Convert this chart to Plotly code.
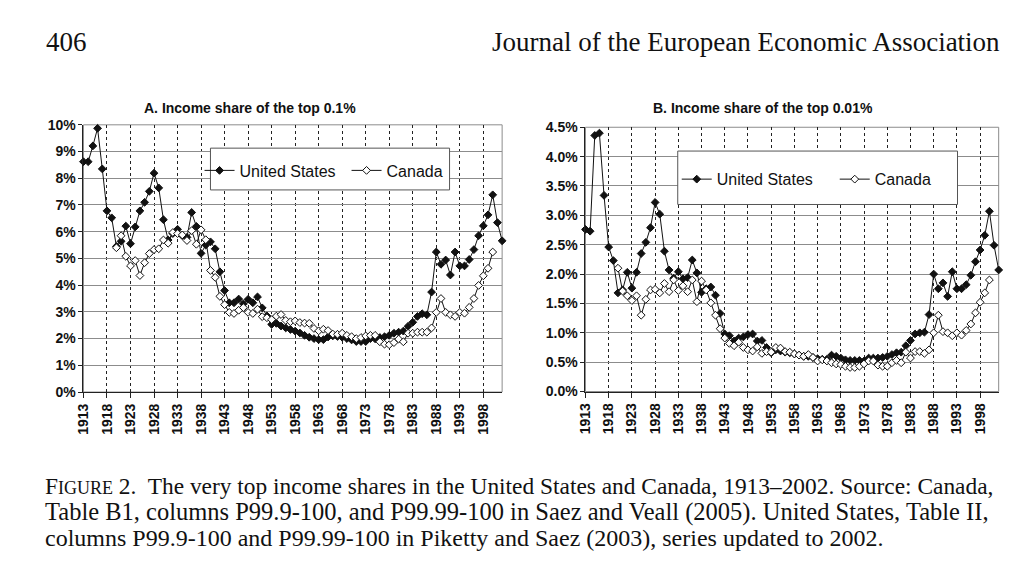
import plotly.graph_objects as go

# ---------------- data ----------------
years_us = list(range(1913, 2003))
years_ca = list(range(1920, 2001))

us_top01 = [8.62, 8.62, 9.21, 9.87, 8.35, 6.78, 6.52, 5.45, 5.64, 6.21,
            5.55, 6.18, 6.78, 7.10, 7.51, 8.19, 7.64, 6.45, 5.69, 5.93,
            6.09, 5.85, 5.79, 6.72, 6.20, 5.19, 5.50, 5.62, 5.36, 4.50,
            3.80, 3.34, 3.34, 3.48, 3.30, 3.47, 3.34, 3.56, 3.15, 2.85,
            2.53, 2.57, 2.47, 2.40, 2.34, 2.28, 2.21, 2.12, 2.05, 2.00,
            1.96, 1.96, 2.06, 2.10, 2.08, 2.05, 2.00, 1.95, 1.89, 1.89,
            1.89, 2.00, 1.99, 2.04, 2.07, 2.12, 2.20, 2.24, 2.28, 2.46,
            2.61, 2.83, 2.93, 2.89, 3.74, 5.24, 4.78, 4.94, 4.38, 5.24,
            4.72, 4.72, 4.96, 5.33, 5.85, 6.22, 6.63, 7.38, 6.34, 5.66]

ca_top01 = [5.40, 5.85, 5.08, 4.72, 4.92, 4.36, 4.84, 5.18, 5.33, 5.36,
            5.69, 5.57, 5.97, 5.93, 5.88, 5.67, 6.04, 5.53, 6.07, 5.70,
            4.55, 4.29, 3.58, 3.27, 2.98, 2.94, 3.06, 3.16, 2.98, 2.94,
            3.10, 2.82, 2.78, 2.71, 2.84, 2.90, 2.68, 2.63, 2.66, 2.60,
            2.58, 2.57, 2.38, 2.29, 2.35, 2.30, 2.17, 2.16, 2.20, 2.12,
            2.07, 2.00, 2.04, 2.10, 2.12, 2.12, 1.88, 1.79, 1.77, 1.85,
            1.98, 1.88, 2.20, 2.20, 2.24, 2.24, 2.24, 2.40, 2.98, 3.50,
            2.98, 2.89, 2.83, 2.98, 2.95, 3.17, 3.50, 3.99, 4.35, 4.63,
            5.24]

us_top001 = [2.76, 2.73, 4.36, 4.40, 3.34, 2.46, 2.23, 1.68, 1.73, 2.03,
             1.76, 2.03, 2.35, 2.54, 2.79, 3.22, 3.02, 2.39, 2.07, 1.93,
             2.04, 1.92, 1.94, 2.24, 2.02, 1.69, 1.75, 1.78, 1.64, 1.33,
             0.98, 0.95, 0.86, 0.91, 0.93, 0.97, 0.98, 0.86, 0.87, 0.75,
             0.66, 0.71, 0.69, 0.67, 0.66, 0.64, 0.62, 0.60, 0.60, 0.58,
             0.56, 0.55, 0.55, 0.62, 0.60, 0.57, 0.54, 0.53, 0.53, 0.53,
             0.52, 0.57, 0.57, 0.57, 0.58, 0.60, 0.63, 0.66, 0.67, 0.78,
             0.87, 0.98, 1.00, 1.01, 1.31, 2.00, 1.75, 1.85, 1.62, 2.04,
             1.75, 1.75, 1.82, 1.98, 2.21, 2.41, 2.66, 3.07, 2.49, 2.07]

ca_top001 = [2.10, 1.71, 1.63, 1.55, 1.63, 1.30, 1.57, 1.73, 1.74, 1.68,
             1.84, 1.70, 1.90, 1.72, 1.80, 1.70, 1.90, 1.53, 1.88, 1.73,
             1.51, 1.30, 1.07, 0.91, 0.82, 0.78, 0.84, 0.75, 0.71, 0.69,
             0.76, 0.65, 0.68, 0.67, 0.75, 0.74, 0.68, 0.67, 0.64, 0.62,
             0.60, 0.63, 0.58, 0.52, 0.54, 0.52, 0.49, 0.47, 0.46, 0.43,
             0.41, 0.41, 0.43, 0.47, 0.52, 0.52, 0.45, 0.43, 0.43, 0.49,
             0.53, 0.49, 0.67, 0.57, 0.68, 0.68, 0.65, 0.71, 1.00, 1.30,
             1.02, 1.00, 0.95, 1.00, 0.96, 1.04, 1.15, 1.34, 1.52, 1.68,
             1.90]

tick_years = list(range(1913, 2002, 5))
tick_labels = [str(y) for y in tick_years]

panel_titles = ["A. Income share of the top 0.1%", "B. Income share of the top 0.01%"]
series_names = ["United States", "Canada"]

# ---------------- figure ----------------
SANS = "Liberation Sans, Arial, sans-serif"
SERIF = "Liberation Serif, Times New Roman, serif"

# the page body keeps its default 8px margin, so the figure is sized to fit
OFF = 8
W, H = 1030 - 2 * OFF, 580 - 2 * OFF


def px(x):
    return (x - OFF) / W


def py(y):
    return (H - (y - OFF)) / H


fig = go.Figure()


def add_pair(us, ca, xa, ya, legend):
    fig.add_trace(go.Scatter(
        x=years_us, y=us, name=series_names[0], mode="lines+markers",
        line=dict(color="#111111", width=1),
        marker=dict(symbol="diamond", size=6, color="#111111",
                    line=dict(color="#111111", width=1)),
        xaxis=xa, yaxis=ya, legend=legend, cliponaxis=False))
    fig.add_trace(go.Scatter(
        x=years_ca, y=ca, name=series_names[1], mode="lines+markers",
        line=dict(color="#111111", width=1),
        marker=dict(symbol="diamond", size=6, color="white",
                    line=dict(color="#111111", width=1)),
        xaxis=xa, yaxis=ya, legend=legend, cliponaxis=False))


add_pair(us_top01, ca_top01, "x", "y", "legend")
add_pair(us_top001, ca_top001, "x2", "y2", "legend2")

tickfont = dict(family=SANS, size=14, color="#111", weight="bold")

xaxis_common = dict(
    range=[1913, 2002], tickmode="array", tickvals=tick_years, ticktext=tick_labels,
    tickangle=-90, ticks="outside", ticklen=5, tickcolor="#222", tickwidth=1,
    showline=True, linecolor="#222", linewidth=1,
    showgrid=True, gridcolor="#222", gridwidth=1, griddash="dot",
    zeroline=False, tickfont=tickfont, fixedrange=True,
)
yaxis_common = dict(
    ticks="outside", ticklen=4, tickcolor="#222",
    showline=True, linecolor="#222", linewidth=1,
    showgrid=True, gridcolor="#8c8c8c", gridwidth=1,
    zeroline=False, ticksuffix="%", tickfont=tickfont, fixedrange=True,
)

fig.update_layout(
    width=W, height=H,
    margin=dict(l=0, r=0, t=0, b=0),
    paper_bgcolor="white", plot_bgcolor="white",
    showlegend=True,
    xaxis=dict(domain=[px(76), px(498)], anchor="y", **xaxis_common),
    yaxis=dict(domain=[py(395), py(120)], anchor="x", range=[0, 10], dtick=1,
               tickformat="d", **yaxis_common),
    xaxis2=dict(domain=[px(582), px(998.5)], anchor="y2", **xaxis_common),
    yaxis2=dict(domain=[py(394.5), py(122.5)], anchor="x2", range=[0, 4.5], dtick=0.5,
                tickformat=".1f", **yaxis_common),
    legend=dict(orientation="h", x=px(193), y=py(167), xanchor="left", yanchor="middle",
                bgcolor="rgba(0,0,0,0)", borderwidth=0,
                font=dict(family=SANS, size=16, color="#111"),
                entrywidth=102, itemwidth=30),
    legend2=dict(orientation="h", x=px(674), y=py(176), xanchor="left", yanchor="middle",
                 bgcolor="rgba(0,0,0,0)", borderwidth=0,
                 font=dict(family=SANS, size=16, color="#111"),
                 entrywidth=113, itemwidth=30),
)

# plot-area frames (grey top/right border) and legend boxes
for xr, yr in (("x domain", "y domain"), ("x2 domain", "y2 domain")):
    fig.add_shape(type="rect", xref=xr, yref=yr, x0=0, x1=1, y0=0, y1=1,
                  line=dict(color="#8c8c8c", width=1), layer="below")
fig.add_shape(type="rect", xref="paper", yref="paper",
              x0=px(204), x1=px(445), y0=py(187), y1=py(144),
              line=dict(color="#555", width=1), fillcolor="white", layer="above")
fig.add_shape(type="rect", xref="paper", yref="paper",
              x0=px(675), x1=px(957), y0=py(202), y1=py(147),
              line=dict(color="#555", width=1), fillcolor="white", layer="above")

ann = []
# panel titles
ann.append(dict(text="<b>%s</b>" % panel_titles[0], x=px(244), y=py(103), xref="paper", yref="paper",
                showarrow=False, xanchor="center", yanchor="middle",
                font=dict(family=SANS, size=14, color="#111")))
ann.append(dict(text="<b>%s</b>" % panel_titles[1], x=px(761), y=py(103), xref="paper", yref="paper",
                showarrow=False, xanchor="center", yanchor="middle",
                font=dict(family=SANS, size=14, color="#111")))
# page header
ann.append(dict(text="406", x=px(36), y=py(35), xref="paper", yref="paper",
                showarrow=False, xanchor="left", yanchor="middle",
                font=dict(family=SERIF, size=27, color="#111")))
ann.append(dict(text="Journal of the European Economic Association", x=px(1002), y=py(35),
                xref="paper", yref="paper", showarrow=False, xanchor="right", yanchor="middle",
                font=dict(family=SERIF, size=27, color="#111")))
# caption
cap_lines = [
    "F<span style='font-size:18px'>IGURE</span> 2.  The very top income shares in the United States and Canada, 1913–2002. Source: Canada,",
    "Table B1, columns P99.9-100, and P99.99-100 in Saez and Veall (2005). United States, Table II,",
    "columns P99.9-100 and P99.99-100 in Piketty and Saez (2003), series updated to 2002.",
]
cap_sizes = [23.4, 24.5, 24]
for txt, yy, fs in zip(cap_lines, [492, 518, 545], cap_sizes):
    ann.append(dict(text=txt, x=px(35), y=py(yy), xref="paper", yref="paper",
                    showarrow=False, xanchor="left", yanchor="middle",
                    font=dict(family=SERIF, size=fs, color="#111")))
fig.update_layout(annotations=ann)

fig.write_html("out.html")
